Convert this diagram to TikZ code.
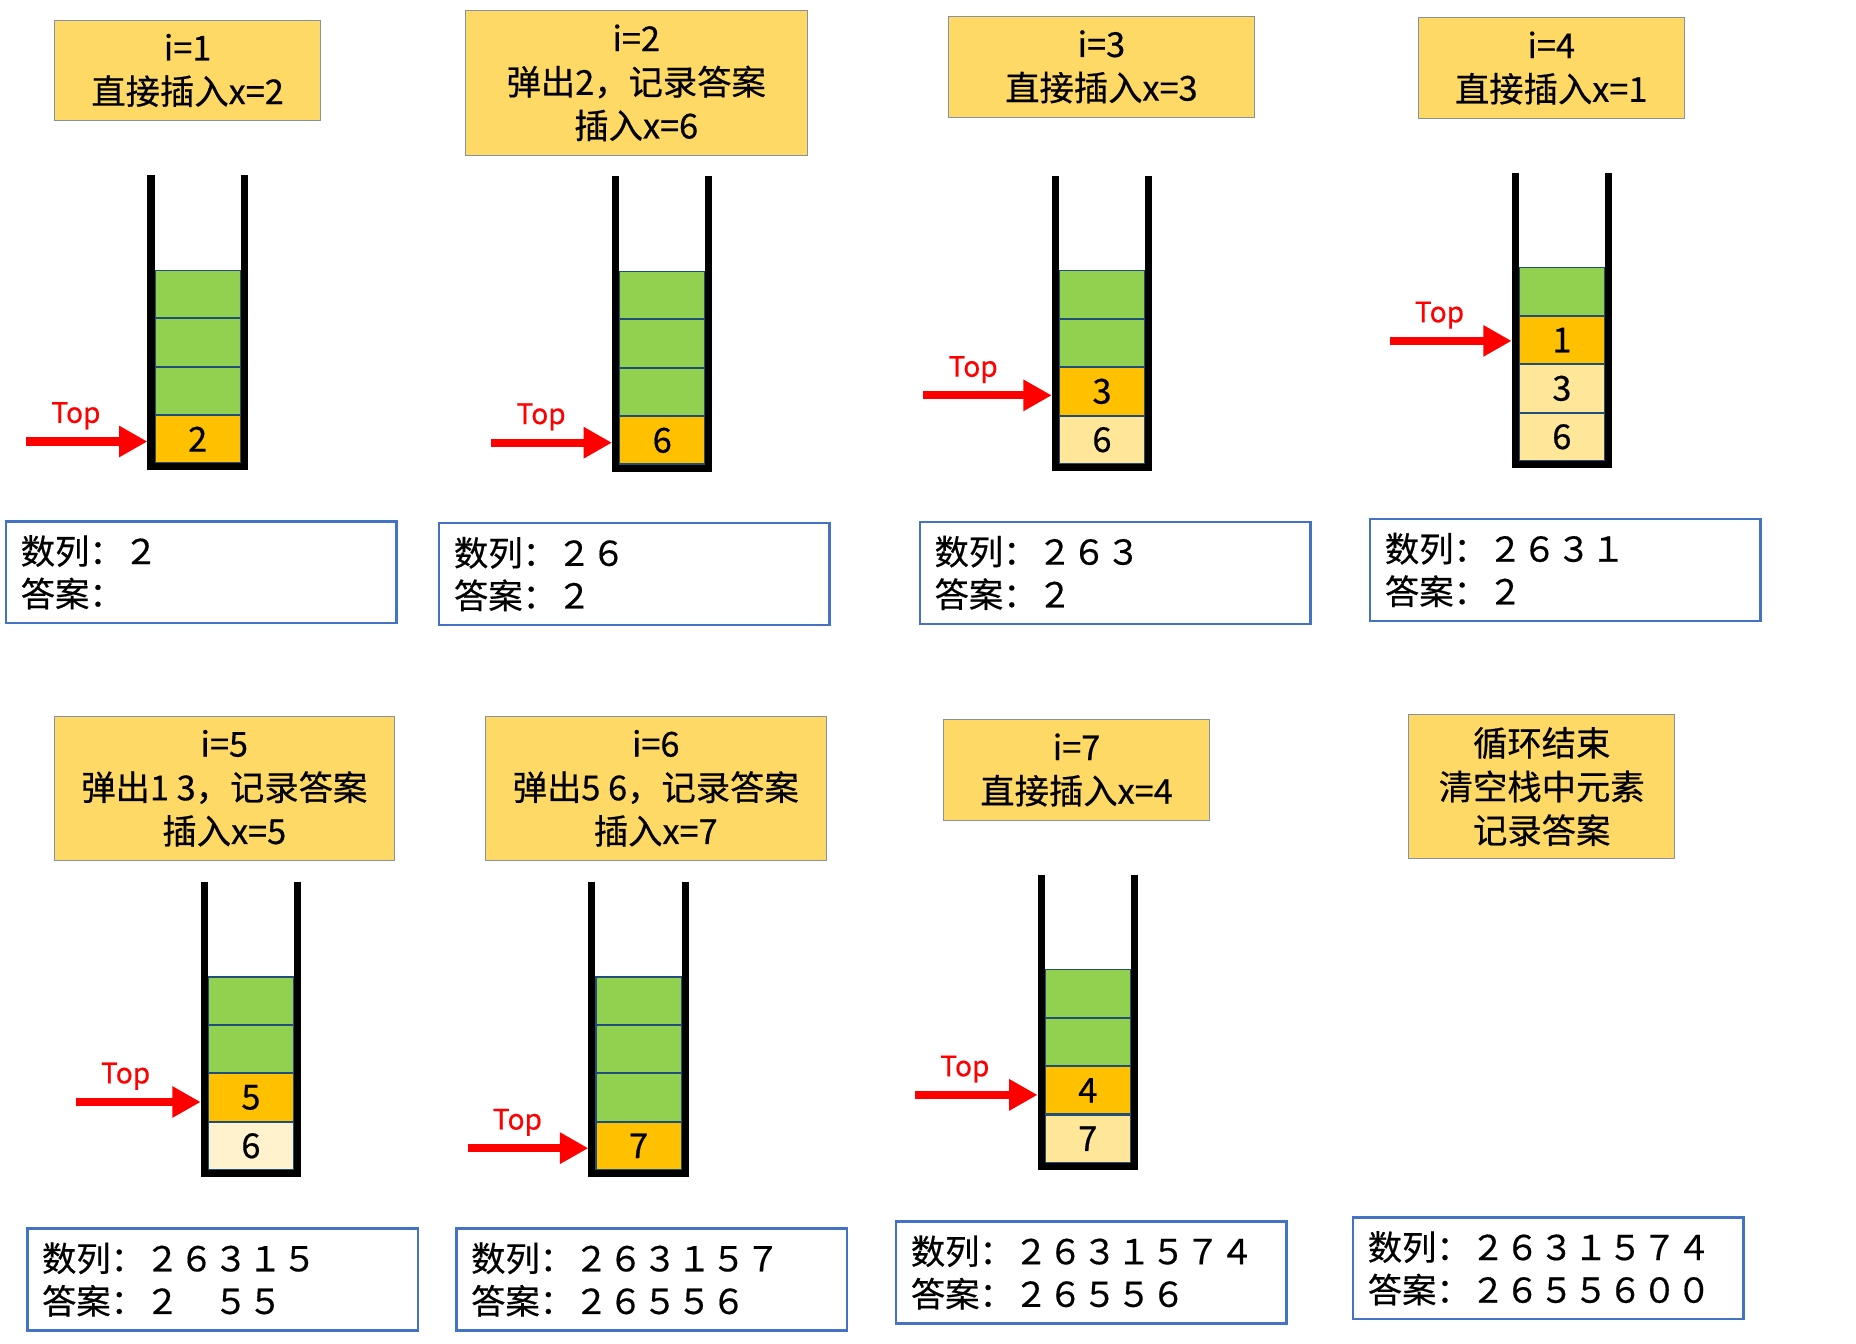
\documentclass[tikz,border=0pt]{standalone}
\usepackage{fontspec}
\setmainfont{Noto Sans CJK SC}[FakeBold=0.5]
\usepackage{xcolor}
\definecolor{boxyellow}{RGB}{255, 217, 102}
\definecolor{boxgray}{RGB}{135, 145, 160}
\definecolor{seqblue}{RGB}{68, 114, 196}
\definecolor{cellgreen}{RGB}{146, 208, 80}
\definecolor{cellorange}{RGB}{255, 192, 0}
\definecolor{cellpale}{RGB}{255, 230, 153}
\definecolor{cellfaint}{RGB}{255, 242, 204}
\definecolor{cellline}{RGB}{31, 78, 121}
\usepackage{tikz}
\usetikzlibrary{arrows.meta, positioning, calc}
\newcommand{\stackwall}[2]{\draw[wall] ([xshift=-0.06cm, yshift=1.6cm]#2.north west) |- ([yshift=-0.06cm]#1.south) -| ([xshift=0.06cm, yshift=1.6cm]#2.north east);}

\begin{document}
\begin{tikzpicture}[x=0.02cm, y=-0.02cm, node distance=0pt,
        stepbox/.style={rectangle, draw=boxgray, fill=boxyellow, align=center, minimum height=1.7cm, inner sep=2pt, font=\fontsize{16.5}{21}\selectfont},
        seqbox/.style={rectangle, draw=seqblue, line width=1.2pt, fill=white, text width=6.1cm, align=left, minimum height=1.72cm, inner xsep=0.25cm, font=\fontsize{16.5}{20.5}\selectfont},
        cell/.style={rectangle, draw=cellline, line width=0.5pt, minimum width=1.44cm, minimum height=0.8cm, inner sep=0pt, font=\fontsize{16.5}{18}\selectfont},
        gcell/.style={cell, fill=cellgreen},
        ocell/.style={cell, fill=cellorange},
        pcell/.style={cell, fill=cellpale},
        wall/.style={line width=0.12cm, black},
        line/.style={draw=red, line width=0.14cm, -{Triangle[length=0.48cm, width=0.5cm]}, shorten >=0.12cm},
        toplabel/.style={red, inner sep=0pt, font=\fontsize{13.5}{15}\selectfont}]
        \useasboundingbox (0,0) rectangle (1568,1135);

        % Fila 1: i=1
        \node [stepbox, minimum width=4.5cm] (op1) at (158.5,59.5) {i=1\\直接插入x=2};
        \node [ocell] (s1a) at (167,371) {2};
        \node [gcell, above=of s1a] (s1b) {};
        \node [gcell, above=of s1b] (s1c) {};
        \node [gcell, above=of s1c] (s1d) {};
        \stackwall{s1a}{s1d}
        \coordinate (t1) at (22,373);
        \node [toplabel, above right=0.2cm and 0.42cm of t1] (lab1) {Top};
        \path [line] (t1) -- (t1 -| s1a.west);
        \node [seqbox] (seq1) at (170,483.5) {数列：２\\答案：};

        % i=2
        \node [stepbox, minimum width=5.78cm, minimum height=2.44cm] (op2) at (537.5,70) {i=2\\弹出2，记录答案\\插入x=6};
        \node [ocell] (s2a) at (559.5,372) {6};
        \node [gcell, above=of s2a] (s2b) {};
        \node [gcell, above=of s2b] (s2c) {};
        \node [gcell, above=of s2c] (s2d) {};
        \stackwall{s2a}{s2d}
        \coordinate (t2) at (415,374);
        \node [toplabel, above right=0.2cm and 0.42cm of t2] (lab2) {Top};
        \path [line] (t2) -- (t2 -| s2a.west);
        \node [seqbox] (seq2) at (536,485) {数列：２６\\答案：２};

        % i=3
        \node [stepbox, minimum width=5.18cm] (op3) at (930.5,56.5) {i=3\\直接插入x=3};
        \node [pcell] (s3a) at (931,371.5) {6};
        \node [ocell, above=of s3a] (s3b) {3};
        \node [gcell, above=of s3b] (s3c) {};
        \node [gcell, above=of s3c] (s3d) {};
        \stackwall{s3a}{s3d}
        \coordinate (t3) at (780,334);
        \node [toplabel, above right=0.2cm and 0.42cm of t3] (lab3) {Top};
        \path [line] (t3) -- (t3 -| s3b.west);
        \node [seqbox] (seq3) at (942,484) {数列：２６３\\答案：２};

        % i=4
        \node [stepbox, minimum width=4.5cm] (op4) at (1310.5,57.5) {i=4\\直接插入x=1};
        \node [pcell] (s4a) at (1319.5,369) {6};
        \node [pcell, above=of s4a] (s4b) {3};
        \node [ocell, above=of s4b] (s4c) {1};
        \node [gcell, above=of s4c] (s4d) {};
        \stackwall{s4a}{s4d}
        \coordinate (t4) at (1174,288);
        \node [toplabel, above right=0.2cm and 0.42cm of t4] (lab4) {Top};
        \path [line] (t4) -- (t4 -| s4c.west);
        \node [seqbox] (seq4) at (1322.5,481.5) {数列：２６３１\\答案：２};

        % Fila 2: i=5
        \node [stepbox, minimum width=5.74cm, minimum height=2.44cm] (op5) at (189.5,666) {i=5\\弹出1 3，记录答案\\插入x=5};
        \node [cell, fill=cellfaint] (s5a) at (212,968) {6};
        \node [ocell, above=of s5a] (s5b) {5};
        \node [gcell, above=of s5b] (s5c) {};
        \node [gcell, above=of s5c] (s5d) {};
        \stackwall{s5a}{s5d}
        \coordinate (t5) at (64,931);
        \node [toplabel, above right=0.2cm and 0.42cm of t5] (lab5) {Top};
        \path [line] (t5) -- (t5 -| s5b.west);
        \node [seqbox] (seq5) at (188,1081) {数列：２６３１５\\答案：２　５５};

        % i=6
        \node [stepbox, minimum width=5.76cm, minimum height=2.44cm] (op6) at (554,666) {i=6\\弹出5 6，记录答案\\插入x=7};
        \node [ocell] (s6a) at (539.5,968) {7};
        \node [gcell, above=of s6a] (s6b) {};
        \node [gcell, above=of s6b] (s6c) {};
        \node [gcell, above=of s6c] (s6d) {};
        \stackwall{s6a}{s6d}
        \coordinate (t6) at (395,970);
        \node [toplabel, above right=0.2cm and 0.42cm of t6] (lab6) {Top};
        \path [line] (t6) -- (t6 -| s6a.west);
        \node [seqbox] (seq6) at (550.5,1081) {数列：２６３１５７\\答案：２６５５６};

        % i=7
        \node [stepbox, minimum width=4.5cm] (op7) at (909.5,650.5) {i=7\\直接插入x=4};
        \node [pcell] (s7a) at (919,962) {7};
        \node [ocell, above=of s7a] (s7b) {4};
        \node [gcell, above=of s7b] (s7c) {};
        \node [gcell, above=of s7c] (s7d) {};
        \stackwall{s7a}{s7d}
        \coordinate (t7) at (773,925);
        \node [toplabel, above right=0.2cm and 0.42cm of t7] (lab7) {Top};
        \path [line] (t7) -- (t7 -| s7b.west);
        \node [seqbox] (seq7) at (922,1075) {数列：２６３１５７４\\答案：２６５５６};

        % Fin del bucle
        \node [stepbox, minimum width=4.5cm, minimum height=2.44cm] (op8) at (1302.5,664.5) {循环结束\\清空栈中元素\\记录答案};
        \node [seqbox] (seq8) at (1308,1071.5) {数列：２６３１５７４\\答案：２６５５６００};
    \end{tikzpicture}
\end{document}
